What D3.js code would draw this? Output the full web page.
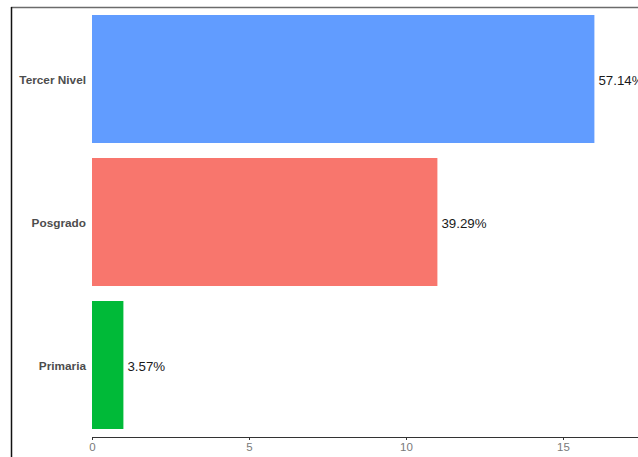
<!DOCTYPE html>
<html>
<head>
<meta charset="utf-8">
<script src="https://cdn.jsdelivr.net/npm/d3@7"></script>
<style>
html,body{margin:0;padding:0;background:#fff;}
svg{display:block;}
</style>
</head>
<body>
<svg id="chart" width="638" height="457"></svg>
<script>
const categories = ["Tercer Nivel", "Posgrado", "Primaria"];
const counts = [16, 11, 1];
const percentLabels = ["57.14%", "39.29%", "3.57%"];
const barColors = ["#619CFF", "#F8766D", "#00BA38"];
const tickValues = [0, 5, 10, 15];

const svg = d3.select("#chart");
const W = 638, H = 457;

// frame lines (cropped panel border)
svg.append("line").attr("x1", 11).attr("x2", W).attr("y1", 7.5).attr("y2", 7.5)
  .attr("stroke", "#6b6b6b").attr("stroke-width", 1.5);
svg.append("line").attr("x1", 11.5).attr("x2", 11.5).attr("y1", 7).attr("y2", H)
  .attr("stroke", "#111").attr("stroke-width", 1.5);

const x = d3.scaleLinear().domain([0, 17.5]).range([92, 92 + 17.5 * 31.4]);
const y = d3.scaleBand().domain(categories).range([7.5, 436.5])
  .paddingInner(0.105).paddingOuter(0.0525);

const data = categories.map((c, i) => ({c, v: counts[i], p: percentLabels[i], col: barColors[i]}));

svg.append("g").selectAll("rect").data(data).join("rect")
  .attr("x", x(0))
  .attr("y", d => y(d.c))
  .attr("width", d => x(d.v) - x(0))
  .attr("height", y.bandwidth())
  .attr("fill", d => d.col);

svg.append("g").selectAll("text").data(data).join("text")
  .attr("x", d => x(d.v) + 4)
  .attr("y", d => y(d.c) + y.bandwidth() / 2 + 1)
  .attr("dy", "0.35em")
  .attr("font-family", "Liberation Sans, Arial, sans-serif")
  .attr("font-size", 13.3)
  .attr("fill", "#1a1a1a")
  .text(d => d.p);

// category labels
svg.append("g").selectAll("text").data(categories).join("text")
  .attr("x", 86)
  .attr("y", d => y(d) + y.bandwidth() / 2 + 1)
  .attr("dy", "0.35em")
  .attr("text-anchor", "end")
  .attr("font-family", "Liberation Sans, Arial, sans-serif")
  .attr("font-weight", "bold")
  .attr("font-size", 11.8)
  .attr("fill", "#4d4d4d")
  .text(d => d);

// x axis
const axis = svg.append("g").attr("transform", "translate(0,437)")
  .call(d3.axisBottom(x).tickValues(tickValues).tickSize(3).tickSizeOuter(0).tickPadding(3));
axis.select(".domain").attr("stroke", "#333").attr("stroke-width", 1.2);
axis.selectAll(".tick line").attr("stroke", "#333");
axis.selectAll(".tick text")
  .attr("font-family", "Liberation Sans, Arial, sans-serif")
  .attr("font-size", 11.5)
  .attr("fill", "#7a7a7a");
</script>
</body>
</html>
